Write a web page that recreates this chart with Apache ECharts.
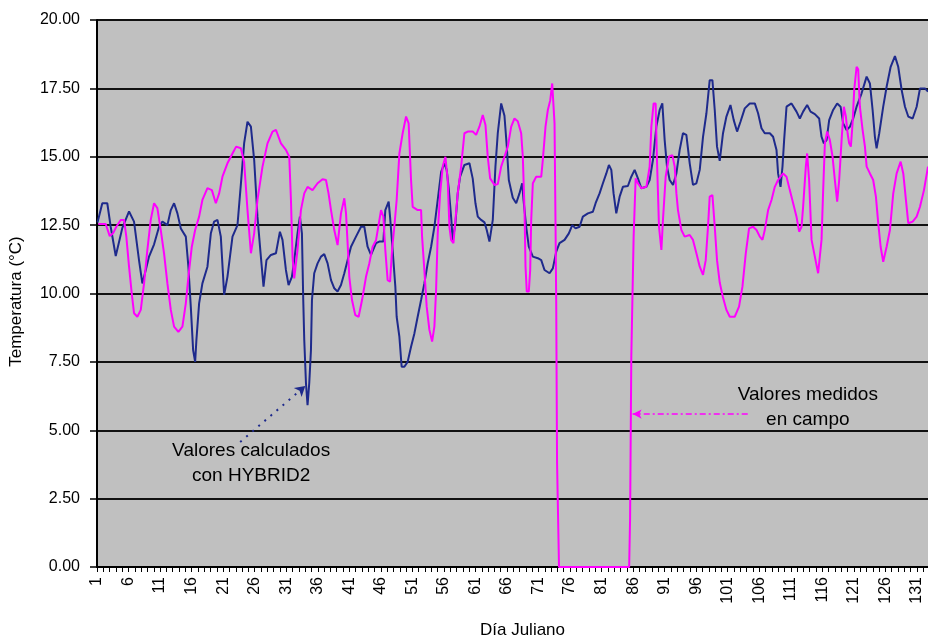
<!DOCTYPE html>
<html>
<head>
<meta charset="utf-8">
<script src="https://cdn.jsdelivr.net/npm/echarts@6/dist/echarts.min.js"></script>
<style>html,body{margin:0;padding:0;background:#fff}#c{width:928px;height:637px}</style>
</head>
<body>
<div id="c"></div>
<script>
// ---- data (día juliano, temperatura °C) ----
const calcDay = [1.08,1.84,2.63,3.17,3.97,5.02,6.08,6.87,7.67,8.19,8.73,9.25,10.05,10.84,11.37,12.16,12.70,13.22,13.75,14.29,15.08,15.49,15.87,16.24,16.56,16.76,17.19,17.71,18.51,19.05,19.57,20.10,20.63,21.16,21.68,22.48,23.27,23.81,24.33,24.86,25.40,25.92,26.44,26.98,27.40,27.87,28.57,29.37,30.00,30.41,30.95,31.37,31.90,32.27,32.79,33.17,33.49,33.70,33.86,34.13,34.38,34.65,34.92,35.08,35.44,35.97,36.51,37.03,37.56,38.10,38.62,39.14,39.68,40.21,40.73,41.27,42.06,42.86,43.38,43.90,44.44,45.24,45.76,46.40,46.71,47.24,47.46,47.87,48.30,48.51,48.94,49.30,49.73,50.25,50.79,51.32,51.84,52.38,52.90,53.43,53.97,54.49,55.02,55.56,56.08,56.44,56.76,57.14,57.40,57.83,58.19,58.57,59.25,60.05,60.57,61.00,61.37,61.90,62.43,62.79,63.22,63.75,64.17,64.54,65.08,65.60,65.97,66.29,66.92,67.46,67.98,68.41,68.62,69.05,69.46,70.10,70.89,71.43,71.95,72.75,73.27,73.81,74.33,75.13,75.81,76.35,76.87,77.51,78.03,78.83,79.62,80.05,80.68,81.21,81.75,82.16,82.54,82.90,83.33,83.86,84.38,85.17,85.71,86.24,86.76,87.30,88.10,88.62,89.14,89.68,90.21,90.63,91.00,91.37,91.79,92.32,92.86,93.38,93.90,94.44,94.97,95.49,96.03,96.56,97.08,97.62,98.14,98.57,98.94,99.30,99.73,100.25,100.79,101.43,101.95,102.48,103.02,103.70,104.49,105.29,105.81,106.35,106.87,107.67,108.19,108.73,108.98,109.37,109.68,109.94,110.32,111.11,111.90,112.43,112.95,113.59,114.13,114.81,115.49,115.87,116.24,116.67,117.08,117.71,118.35,118.89,119.30,119.84,120.37,120.89,121.43,122.22,123.02,123.54,123.97,124.33,124.60,125.02,125.65,126.19,126.83,127.51,128.03,128.57,129.10,129.62,130.32,130.95,131.48,132.27,132.75];
const calcTemp = [12.6,13.3,13.3,12.44,11.37,12.4,13.0,12.63,11.2,10.37,10.86,11.35,11.8,12.44,12.63,12.5,13.05,13.3,12.93,12.38,12.08,10.98,9.52,7.93,7.5,8.3,9.64,10.37,10.98,12.2,12.63,12.69,12.08,9.95,10.61,12.08,12.5,14.0,15.5,16.28,16.1,14.88,12.81,11.35,10.25,11.22,11.41,11.47,12.26,11.96,10.86,10.31,10.61,11.22,12.2,12.81,12.2,9.76,8.3,6.72,5.92,6.72,7.93,9.76,10.74,11.1,11.35,11.44,11.1,10.49,10.19,10.07,10.31,10.74,11.22,11.71,12.08,12.44,12.44,11.71,11.41,11.84,11.9,11.9,13.05,13.36,12.81,11.59,10.25,9.15,8.42,7.32,7.32,7.5,8.05,8.54,9.15,9.76,10.37,11.1,11.71,12.44,13.42,14.45,14.76,14.52,13.85,12.81,11.96,12.57,13.66,14.27,14.7,14.76,14.2,13.3,12.81,12.69,12.6,12.32,11.9,12.69,14.64,15.86,16.95,16.5,15.37,14.15,13.5,13.3,13.66,14.03,13.42,12.44,11.71,11.35,11.29,11.22,10.86,10.74,10.92,11.53,11.84,11.96,12.2,12.5,12.38,12.44,12.81,12.93,12.99,13.3,13.66,14.03,14.39,14.7,14.52,13.66,12.93,13.54,13.9,13.93,14.27,14.52,14.21,13.85,13.9,14.15,14.88,16.1,16.71,16.95,15.61,14.64,14.15,13.97,14.39,15.25,15.86,15.8,14.76,13.97,14.03,14.52,15.73,16.59,17.8,17.8,16.71,15.37,14.85,15.86,16.47,16.89,16.34,15.92,16.28,16.77,16.95,16.95,16.59,16.04,15.86,15.86,15.73,15.25,14.39,13.9,14.64,15.61,16.83,16.95,16.65,16.4,16.65,16.89,16.65,16.56,16.4,15.73,15.49,15.61,16.34,16.71,16.95,16.83,16.22,15.98,16.1,16.4,16.83,17.32,17.93,17.68,16.71,15.73,15.31,15.86,16.83,17.56,18.29,18.68,18.29,17.44,16.83,16.47,16.4,16.83,17.5,17.5,17.38];

const fieldDay = [1.21,2.38,3.02,3.54,4.06,4.76,5.29,5.65,6.08,6.51,6.87,7.40,7.94,8.46,8.98,9.52,10.05,10.57,11.11,11.63,12.16,12.70,13.22,13.90,14.54,15.08,15.49,16.03,16.56,17.19,17.71,18.51,19.21,19.84,20.37,20.89,21.68,22.48,23.06,23.81,24.33,24.86,25.40,25.92,26.44,27.24,28.03,28.83,29.37,30.16,30.95,31.48,31.75,32.00,32.27,32.79,33.33,33.86,34.38,35.17,35.97,36.76,37.30,37.71,38.10,38.62,39.14,39.68,40.21,40.48,40.73,41.00,41.43,41.95,42.48,43.02,43.65,44.17,44.70,45.24,46.03,46.40,46.71,47.08,47.46,47.78,48.14,48.51,48.94,49.46,50.00,50.41,50.79,51.05,51.84,52.38,52.54,52.90,53.27,53.70,54.13,54.49,54.76,55.02,55.40,55.81,56.24,56.60,56.87,57.14,57.51,57.83,58.19,58.73,59.25,59.78,60.57,61.11,61.63,62.16,62.59,62.95,63.33,64.02,64.54,65.08,65.60,66.13,66.67,67.19,67.71,68.25,68.51,68.78,68.94,69.14,69.46,69.68,69.84,70.10,70.63,71.43,71.68,72.11,72.48,72.86,73.17,73.54,73.70,73.81,73.94,74.25,85.37,85.52,85.71,86.08,86.40,86.76,87.30,88.10,88.62,88.89,89.25,89.57,89.78,90.10,90.48,90.73,91.16,91.68,92.22,92.59,92.86,93.11,93.65,94.17,94.97,95.49,96.03,96.56,97.08,97.51,97.87,98.14,98.57,98.94,99.30,99.73,100.25,100.79,101.32,102.11,102.79,103.33,103.86,104.38,105.02,105.56,106.08,106.51,106.87,107.40,107.94,108.46,108.98,109.78,110.32,110.84,111.37,111.90,112.32,112.70,112.95,113.38,113.59,113.90,114.29,114.81,115.33,115.60,115.87,116.13,116.40,116.76,117.19,117.62,117.98,118.35,118.67,119.05,119.41,119.73,120.00,120.25,120.52,120.79,121.05,121.43,121.68,121.95,122.38,122.75,123.02,123.54,124.06,124.49,124.86,125.24,125.65,126.19,126.71,127.24,127.78,128.41,128.83,129.25,129.62,130.32,130.95,131.48,132.11,132.75];
const fieldTemp = [12.54,12.54,12.1,12.2,12.44,12.69,12.69,12.08,10.98,10.0,9.28,9.15,9.4,10.37,11.59,12.69,13.3,13.12,12.32,11.47,10.37,9.4,8.79,8.6,8.79,9.64,10.61,11.71,12.32,12.81,13.42,13.85,13.78,13.3,13.66,14.27,14.76,15.12,15.37,15.31,14.8,13.05,11.47,12.2,13.42,14.64,15.49,15.92,15.98,15.49,15.25,15.0,13.42,11.35,10.55,11.59,13.05,13.66,13.9,13.78,14.03,14.18,14.15,13.66,13.05,12.32,11.77,12.93,13.48,12.93,11.84,10.61,9.76,9.21,9.15,9.76,10.61,11.1,11.71,11.95,13.05,12.81,11.59,10.49,10.43,11.59,12.44,13.42,15.12,15.86,16.47,16.22,14.15,13.17,13.05,13.05,12.08,10.86,9.52,8.67,8.24,8.79,10.13,12.2,13.66,14.64,15.0,14.15,12.44,11.96,11.84,12.69,13.66,14.64,15.86,15.92,15.92,15.8,16.1,16.53,16.16,15.0,14.21,13.97,14.0,14.64,15.0,15.37,16.1,16.4,16.3,15.86,15.0,13.05,10.98,10.07,10.07,10.86,12.69,14.03,14.27,14.27,14.88,16.1,16.71,17.07,17.68,16.22,12.44,9.58,3.8,0,0,1.8,7.69,12.08,14.21,14.03,13.85,13.9,14.64,16.1,16.95,16.95,14.88,12.44,11.59,12.69,14.27,15.0,15.06,14.64,13.66,13.05,12.32,12.08,12.14,11.96,11.47,10.98,10.68,11.22,12.44,13.54,13.6,12.44,11.22,10.4,9.85,9.4,9.15,9.15,9.52,10.25,11.47,12.38,12.44,12.32,12.08,11.96,12.32,13.05,13.42,13.9,14.15,14.39,14.27,13.78,13.3,12.81,12.26,12.44,13.17,14.64,15.12,14.15,11.96,11.35,10.74,10.8,11.96,13.78,15.49,15.92,15.61,15.0,14.15,13.36,14.15,15.61,16.83,16.47,15.86,15.49,15.37,16.22,17.44,18.29,18.2,16.83,15.98,15.37,14.64,14.39,14.15,13.54,12.57,11.71,11.16,11.71,12.32,13.66,14.39,14.82,14.39,13.42,12.57,12.63,12.81,13.17,13.78,14.64];

// axis ticks
const xLabelDays = [1,6,11,16,21,26,31,36,41,46,51,56,61,66,71,76,81,86,91,96,101,106,111,116,121,126,131];
const xMin = 1, xMax = 132.75;

// annotations (data coordinates)
const calcArrow = [[23.70,4.57],[34.02,6.62]];
const fieldArrow = [[104.17,5.59],[85.92,5.59]];
const calcText = {text:'Valores calculados\ncon HYBRID2', at:[25.44,3.78]};
const fieldText = {text:'Valores medidos\nen campo', at:[113.70,5.83]};

const NAVY = '#1e2a8c', MAG = '#ff00ff';
const FONT = '"Liberation Sans", Arial, sans-serif';

const dayTicks = [];
for (let d = 1; d <= Math.floor(xMax); d++) dayTicks.push(d);

const pairs = (xs, ys) => xs.map((x, i) => [x, ys[i]]);

const chart = echarts.init(document.getElementById('c'), null, {renderer: 'canvas'});
chart.setOption({
  animation: false,
  backgroundColor: '#ffffff',
  grid: {left: 97, right: 0, top: 20, bottom: 70, show: true, backgroundColor: '#c0c0c0', borderWidth: 0,
         containLabel: false, outerBoundsMode: 'none'},
  xAxis: {
    type: 'value', min: xMin, max: xMax,
    name: 'Día Juliano', nameLocation: 'middle', nameGap: 55,
    nameTextStyle: {fontFamily: FONT, fontSize: 17, color: '#000', padding: [0, 0, 0, 20]},
    axisLine: {show: true, onZero: false, lineStyle: {color: '#000', width: 2}},
    axisTick: {show: true, length: 5, lineStyle: {color: '#000', width: 1}, customValues: dayTicks},
    axisLabel: {rotate: 90, margin: 10, fontFamily: FONT, fontSize: 16, color: '#000', customValues: xLabelDays},
    splitLine: {show: false}
  },
  yAxis: {
    type: 'value', min: 0, max: 20, interval: 2.5,
    name: 'Temperatura (°C)', nameLocation: 'middle', nameGap: 72, nameRotate: 90,
    nameTextStyle: {fontFamily: FONT, fontSize: 17, color: '#000', padding: [0, 16, 0, 0]},
    axisLine: {show: true, lineStyle: {color: '#000', width: 2}},
    axisTick: {show: true, length: 7, lineStyle: {color: '#000', width: 1.5}},
    axisLabel: {margin: 17, fontFamily: FONT, fontSize: 16, color: '#000', formatter: v => v.toFixed(2)},
    splitLine: {show: true, lineStyle: {color: '#111', width: 2}}
  },
  series: [
    {
      name: 'Valores calculados con HYBRID2', type: 'line', data: pairs(calcDay, calcTemp),
      showSymbol: false, symbol: 'none', lineStyle: {color: NAVY, width: 2}, z: 3,
      markLine: {silent: true, symbol: ['none', 'arrow'], symbolSize: [9, 10],
        lineStyle: {color: NAVY, type: [2, 6], width: 2}, label: {show: false},
        data: [[{coord: calcArrow[0]}, {coord: calcArrow[1]}]]}
    },
    {
      name: 'Valores medidos en campo', type: 'line', data: pairs(fieldDay, fieldTemp),
      showSymbol: false, symbol: 'none', lineStyle: {color: MAG, width: 2}, z: 4,
      markLine: {silent: true, symbol: ['none', 'arrow'], symbolSize: [7, 9],
        lineStyle: {color: MAG, type: [6, 3, 2, 3], width: 1.5}, label: {show: false},
        data: [[{coord: fieldArrow[0]}, {coord: fieldArrow[1]}]]}
    }
  ]
});

function placeTexts() {
  const items = [calcText, fieldText].map(t => {
    const p = chart.convertToPixel({gridIndex: 0}, t.at);
    return {type: 'text', x: p[0], y: p[1], z: 100,
      style: {text: t.text, fill: '#000', font: '19px ' + FONT, align: 'center', verticalAlign: 'middle', lineHeight: 25}};
  });
  chart.setOption({graphic: items});
}
placeTexts();
</script>
</body>
</html>
